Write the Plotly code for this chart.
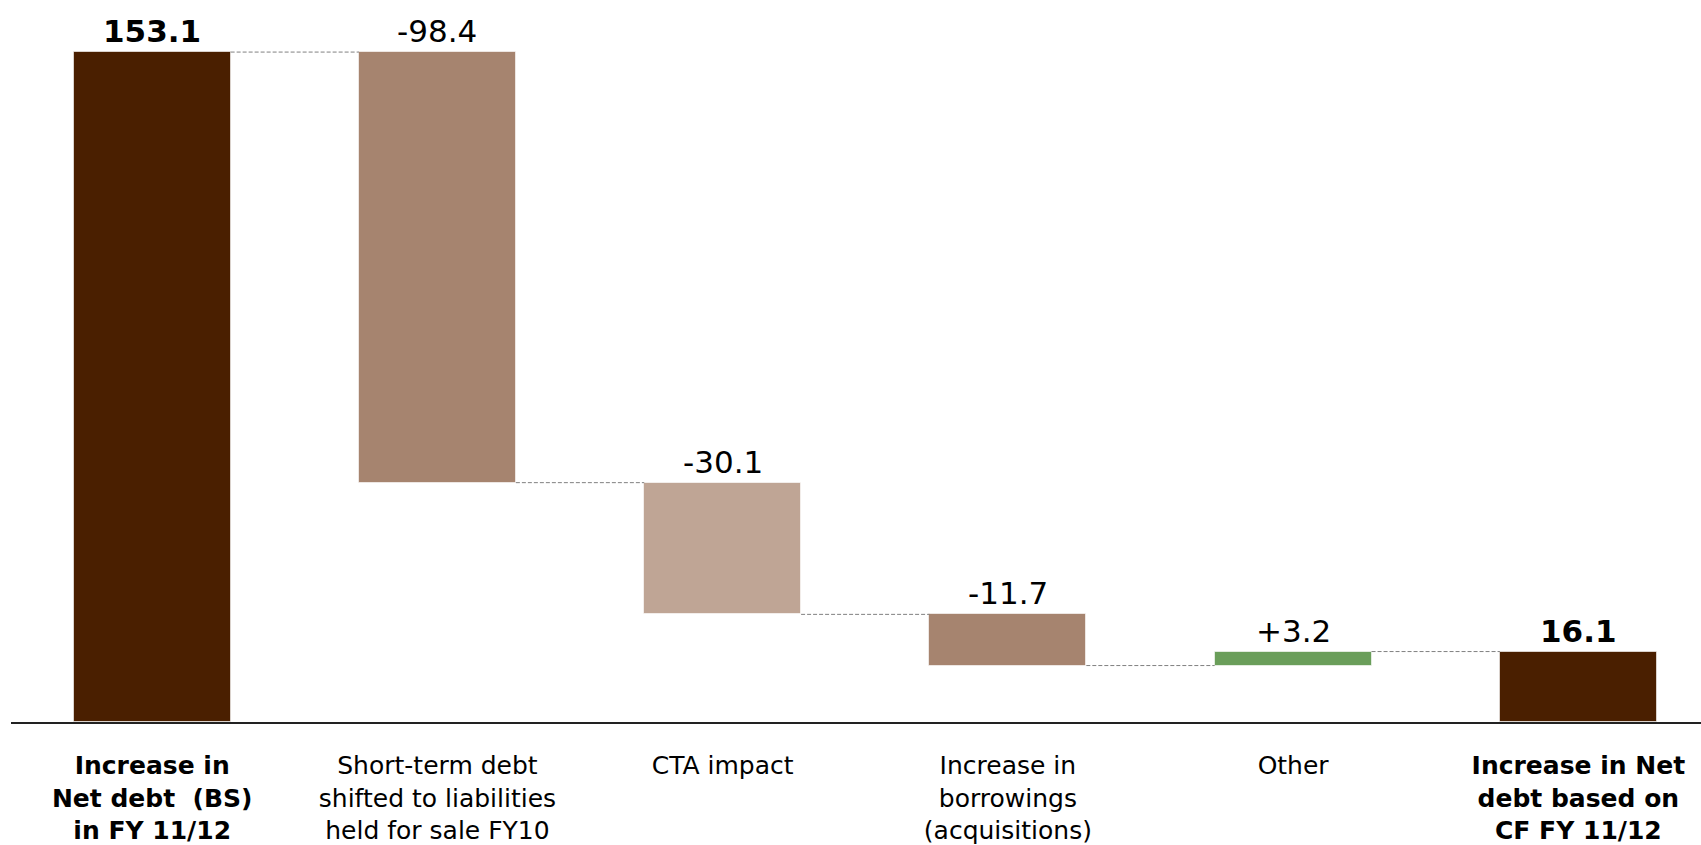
import plotly.graph_objects as go

# Waterfall steps: opening total, movements, closing total
categories = [
    "<b>Increase in<br>Net debt  (BS)<br>in FY 11/12</b>",
    "Short-term debt<br>shifted to liabilities<br>held for sale FY10",
    "CTA impact",
    "Increase in<br>borrowings<br>(acquisitions)",
    "Other",
    "<b>Increase in Net<br>debt based on<br>CF FY 11/12</b>",
]
values = [153.1, -98.4, -30.1, -11.7, 3.2, 16.1]
kinds = ["total", "delta", "delta", "delta", "delta", "total"]
value_labels = ["<b>153.1</b>", "-98.4", "-30.1", "-11.7", "+3.2", "<b>16.1</b>"]
colors = ["#4A1F00", "#A6846F", "#BFA595", "#A6846F", "#6A9E5A", "#4A1F00"]

BAR_W = 0.55

# Compute floating bar bases and heights from the running total
bases, heights, levels = [], [], []
running = 0.0
for v, k in zip(values, kinds):
    if k == "total":
        bases.append(0.0)
        heights.append(v)
        running = v
    else:
        new = running + v
        bases.append(min(running, new))
        heights.append(abs(v))
        running = new
    levels.append(running)

xs = list(range(len(values)))

fig = go.Figure()
fig.add_trace(go.Bar(
    x=xs, y=heights, base=bases, width=BAR_W,
    marker=dict(color=colors, line=dict(color="rgba(255,255,255,0.6)", width=1)),
    hoverinfo="skip", showlegend=False,
))

# Dashed connectors between consecutive bars at the running level
cx, cy = [], []
for i in range(len(values) - 1):
    cx += [i + BAR_W / 2, i + 1 - BAR_W / 2, None]
    cy += [levels[i], levels[i], None]
fig.add_trace(go.Scatter(
    x=cx, y=cy, mode="lines",
    line=dict(color="#808080", width=1, dash="4px,2px"),
    hoverinfo="skip", showlegend=False,
))

# Value labels above each bar
for i, lab in enumerate(value_labels):
    fig.add_annotation(
        x=i, y=bases[i] + heights[i], xref="x", yref="y",
        text=lab, showarrow=False, yanchor="bottom", yshift=1,
        font=dict(family="DejaVu Sans", size=31, color="#000000"),
    )

fig.update_layout(
    width=1701, height=845,
    margin=dict(l=11, r=0, t=0, b=119),
    plot_bgcolor="white", paper_bgcolor="white",
    bargap=0,
    xaxis=dict(
        range=[-0.495, 5.43], tickmode="array", tickvals=xs, ticktext=categories,
        showgrid=False, zeroline=False, showline=True, linecolor="#222222", linewidth=2,
        ticks="", ticklabelstandoff=20,
        tickfont=dict(family="DejaVu Sans", size=25, color="#000000"),
    ),
    yaxis=dict(range=[0, 165], visible=False, showgrid=False, zeroline=False),
)

fig.write_html("out.html")
